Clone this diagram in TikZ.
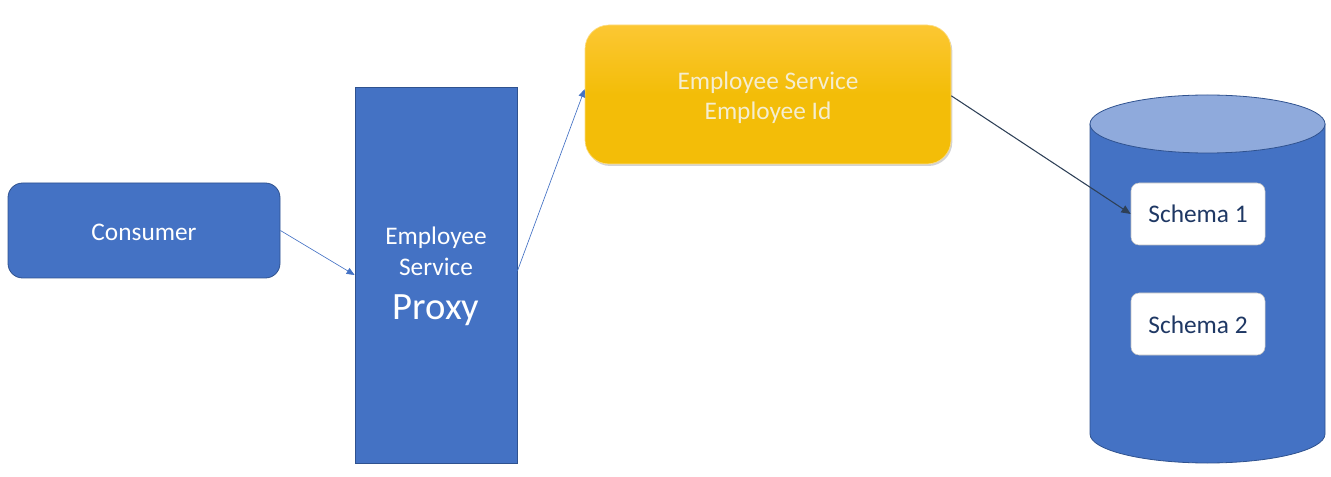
\documentclass[tikz,border=0pt]{standalone}
\usepackage{fontspec}
\setmainfont{Carlito}
\usetikzlibrary{arrows.meta,shadows}
\definecolor{blueA}{HTML}{4472C4}
\definecolor{blueB}{HTML}{2F528F}
\definecolor{blueTop}{HTML}{8FAADC}
\definecolor{yelTop}{HTML}{FCC733}
\definecolor{yelBot}{HTML}{F3BD08}
\definecolor{yelText}{HTML}{F5EDCF}
\definecolor{schText}{HTML}{1F3864}
\definecolor{arrDark}{HTML}{2E4057}
\tikzset{
  bluebox/.style={draw=blueB, line width=0.6pt, fill=blueA, inner sep=0pt},
  txt/.style={anchor=base, inner sep=0pt, font=\fontsize{19pt}{23pt}\selectfont},
  yelbox/.style={draw=yelTop!60!white, line width=0.5pt, top color=yelTop, bottom color=yelBot, middle color=yelBot, rounded corners=18pt, inner sep=0pt, minimum width=274.5pt, minimum height=104.25pt, drop shadow={opacity=0.35, shadow xshift=1pt, shadow yshift=-1.5pt}},
  schbox/.style={draw=gray!50!white, line width=0.4pt, fill=white, rounded corners=6pt, inner sep=0pt, minimum width=100.5pt, minimum height=46.5pt},
  conn/.style={draw=blueA, line width=0.5pt, -{Triangle[length=6pt,width=5pt]}},
  conndark/.style={draw=arrDark, line width=0.8pt, -{Triangle[length=7pt,width=6pt]}}
}
\begin{document}
\begin{tikzpicture}[x=0.75pt,y=-0.75pt]
\useasboundingbox (0,0) rectangle (1331,477);
% Consumer
\node[bluebox, rounded corners=11pt, minimum width=204pt, minimum height=71.25pt] (cons) at (144,230.5) {};
\node[txt, text=white] (constxt) at (144,241) {Consumer};
% Proxy
\node[bluebox, minimum width=121.5pt, minimum height=282pt] (proxy) at (436,275) {};
\node[txt, text=white] (p1) at (436,245) {Employee};
\node[txt, text=white] (p2) at (436,276) {Service};
\node[txt, text=white, font=\fontsize{29pt}{32pt}\selectfont] (p3) at (436,320) {Proxy};
% Employee Service
\node[yelbox] (svc) at (768,94.5) {};
\node[txt, text=yelText] (svc1) at (768,90) {Employee Service};
\node[txt, text=yelText] (svc2) at (768,120) {Employee Id};
% Cylinder (database)
\path[draw=blueB, line width=0.6pt, fill=blueA] (1090,124) -- (1090,434)
  arc[start angle=180, end angle=360, x radius=88.125pt, y radius=21.75pt]
  -- (1325,124) -- cycle;
\path[draw=blueB, line width=0.6pt, fill=blueTop] (1207.5,124) ellipse[x radius=88.125pt, y radius=21.75pt];
\node[schbox] (s1) at (1198,214) {};
\node[txt, text=schText] (s1txt) at (1198,223) {Schema 1};
\node[schbox] (s2) at (1198,324) {};
\node[txt, text=schText] (s2txt) at (1198,333) {Schema 2};
% Connectors
\draw[conn] (cons.east) -- (proxy.west);
\draw[conn] ([yshift=3pt]proxy.east) -- ([yshift=4pt]svc.west);
\draw[conndark] ([yshift=-1pt]svc.east) -- (s1.west);
\end{tikzpicture}
\end{document}
